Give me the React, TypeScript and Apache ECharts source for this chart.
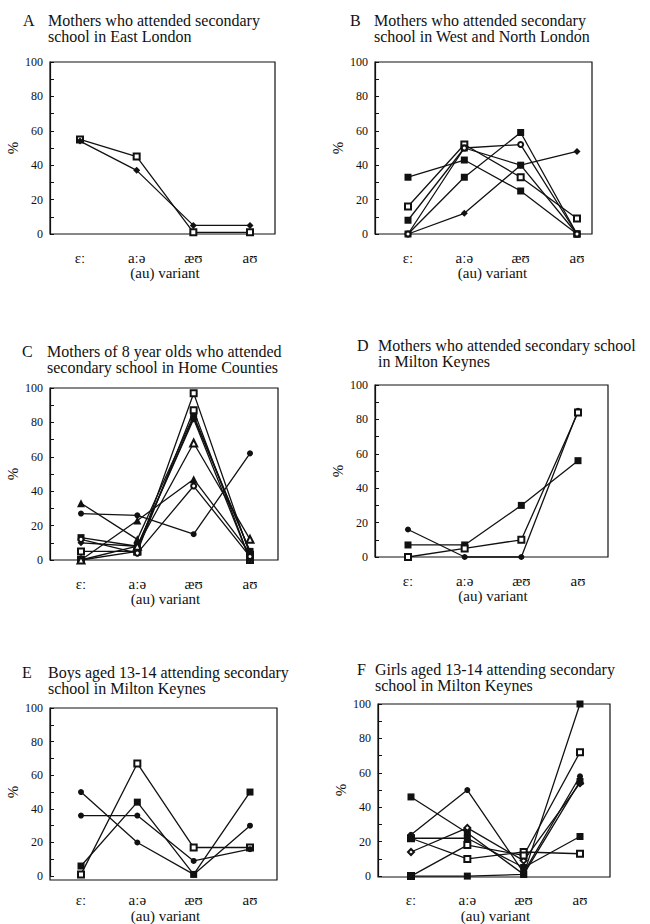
import { useEffect, useRef } from 'react';
import * as echarts from 'echarts';

// ---------- texts ----------
const categories = ['ɛː', 'aːə', 'æʊ', 'aʊ'];
const xAxisName = '(au) variant';
const yAxisName = '%';
const panelLetters = ['A', 'B', 'C', 'D', 'E', 'F'];
const panelTitles = [
  'Mothers who attended secondary\nschool in East London',
  'Mothers who attended secondary\nschool in West and North London',
  'Mothers of 8 year olds who attended\nsecondary school in Home Counties',
  'Mothers who attended secondary school\nin Milton Keynes',
  'Boys aged 13-14 attending secondary\nschool in Milton Keynes',
  'Girls aged 13-14 attending secondary\nschool in Milton Keynes',
];

// ---------- data (% per variant: ɛː, aːə, æʊ, aʊ) ----------
const eastLondon = [
  [55, 45, 1, 1],
  [54, 37, 5, 5],
];
const westNorthLondon = [
  [33, 43, 25, 0],
  [16, 52, 33, 9],
  [8, 50, 40, 0],
  [0, 33, 59, 0],
  [0, 12, 40, 48],
  [0, 50, 52, 0],
];
const homeCounties = [
  [33, 12, 84, 5],
  [27, 26, 15, 62],
  [0, 23, 47, 4],
  [0, 5, 97, 3],
  [5, 5, 87, 0],
  [13, 8, 83, 5],
  [10, 8, 82, 0],
  [0, 8, 68, 12],
  [12, 4, 43, 2],
];
const miltonKeynesMothers = [
  [16, 0, 0, 85],
  [7, 7, 30, 56],
  [0, 5, 10, 84],
];
const boysMiltonKeynes = [
  [1, 67, 17, 17],
  [6, 44, 1, 50],
  [50, 20, 1, 30],
  [36, 36, 9, 16],
];
const girlsMiltonKeynes = [
  [46, 25, 1, 100],
  [24, 50, 2, 58],
  [22, 10, 14, 13],
  [22, 22, 5, 23],
  [14, 28, 9, 54],
  [0, 18, 12, 72],
  [0, 0, 1, 55],
];
const panelData = [
  eastLondon,
  westNorthLondon,
  homeCounties,
  miltonKeynesMothers,
  boysMiltonKeynes,
  girlsMiltonKeynes,
];

// ---------- marker styles ----------
const panelMarkers = [
  ['emptyRect', 'diamond'],
  ['rect', 'emptyRect', 'rect', 'rect', 'diamond', 'emptyCircle'],
  ['triangle', 'circle', 'triangle', 'emptyRect', 'emptyRect', 'rect', 'diamond', 'emptyTriangle', 'emptyCircle'],
  ['circle', 'rect', 'emptyRect'],
  ['emptyRect', 'rect', 'circle', 'circle'],
  ['rect', 'circle', 'emptyRect', 'rect', 'emptyDiamond', 'emptyRect', 'rect'],
];

// ---------- layout ----------
const frames = [
  { x0: 50, x1: 275, top: 62, bottom: 234, c0: 80, c3: 250, letterX: 23, textX: 48, titleY: 20 },
  { x0: 375, x1: 592, top: 62, bottom: 234, c0: 408, c3: 577, letterX: 350, textX: 374, titleY: 20 },
  { x0: 50, x1: 278, top: 388, bottom: 560, c0: 81, c3: 250, letterX: 22, textX: 47, titleY: 351 },
  { x0: 375, x1: 608, top: 385, bottom: 557, c0: 408, c3: 578, letterX: 357, textX: 378, titleY: 345 },
  { x0: 50, x1: 277, top: 708, bottom: 880, c0: 81, c3: 250, letterX: 22, textX: 48, titleY: 672 },
  { x0: 378, x1: 610, top: 704, bottom: 877, c0: 411, c3: 580, letterX: 357, textX: 375, titleY: 669 },
];

const SERIF = '"Liberation Serif", "DejaVu Serif", serif';
const INK = '#111';

export default function App() {
  const ref = useRef<HTMLDivElement>(null);

  useEffect(() => {
    if (!ref.current) return;
    const chart = echarts.init(ref.current, undefined, { renderer: 'svg' });

    const titleStyle = { fontSize: 16, fontWeight: 'normal' as const, fontFamily: SERIF, color: INK, lineHeight: 16 };
    const titles: any[] = [];
    frames.forEach((f, i) => {
      titles.push({ text: panelLetters[i], left: f.letterX, top: f.titleY - 8, padding: 0, textStyle: titleStyle });
      titles.push({ text: panelTitles[i], left: f.textX, top: f.titleY - 8, padding: 0, textStyle: titleStyle });
    });

    const grid = frames.map((f) => ({
      left: f.c0,
      top: f.top,
      width: f.c3 - f.c0,
      height: f.bottom - f.top,
      containLabel: false,
    }));

    const xAxis = frames.map((f, i) => ({
      type: 'category',
      gridIndex: i,
      data: categories,
      boundaryGap: false,
      axisLine: { show: false },
      axisTick: { show: false },
      splitLine: { show: false },
      axisLabel: { margin: 16, fontSize: 15, fontFamily: SERIF, color: INK },
      name: xAxisName,
      nameLocation: 'middle',
      nameGap: 31,
      nameTextStyle: { fontSize: 15, fontFamily: SERIF, color: INK },
    }));

    const yAxis = frames.map((f, i) => ({
      type: 'value',
      gridIndex: i,
      min: 0,
      max: 100,
      interval: 10,
      offset: f.c0 - f.x0,
      axisLine: { show: true, lineStyle: { color: INK, width: 1.2 } },
      axisTick: { show: true, inside: true, length: 4, lineStyle: { color: INK, width: 1 } },
      splitLine: { show: false },
      axisLabel: {
        margin: 7,
        fontSize: 12,
        fontFamily: SERIF,
        color: INK,
        formatter: (v: number) => (v % 20 === 0 ? String(v) : ''),
      },
      name: yAxisName,
      nameLocation: 'middle',
      nameRotate: 90,
      nameGap: 30,
      nameTextStyle: { fontSize: 15, fontFamily: SERIF, color: INK },
    }));

    const series: any[] = [];
    panelData.forEach((rows, i) => {
      rows.forEach((row, j) => {
        const sym = panelMarkers[i][j] || 'rect';
        const empty = sym.startsWith('empty');
        const base = sym.replace('empty', '').toLowerCase();
        let size = 7;
        if (base === 'circle') size = 6;
        if (base === 'diamond') size = 7;
        if (base === 'triangle') size = 8;
        if (empty) size -= 1;
        series.push({
          type: 'line',
          xAxisIndex: i,
          yAxisIndex: i,
          data: row,
          symbol: sym,
          symbolSize: size,
          showAllSymbol: true,
          clip: false,
          silent: true,
          z: 3,
          lineStyle: { color: INK, width: 1.3 },
          itemStyle: { color: INK, borderColor: INK, borderWidth: empty ? 1.3 : 0 },
        });
      });
    });

    const graphic = frames.map((f) => ({
      type: 'rect',
      silent: true,
      z: 1,
      shape: { x: f.x0, y: f.top, width: f.x1 - f.x0, height: f.bottom - f.top },
      style: { fill: 'none', stroke: INK, lineWidth: 1.2 },
    }));

    chart.setOption({
      animation: false,
      backgroundColor: '#fff',
      title: titles,
      grid,
      xAxis,
      yAxis,
      series,
      graphic,
    });

    return () => chart.dispose();
  }, []);

  return (
    <div
      ref={ref}
      style={{ position: 'absolute', left: 0, top: 0, width: 650, height: 924, background: '#fff' }}
    />
  );
}
